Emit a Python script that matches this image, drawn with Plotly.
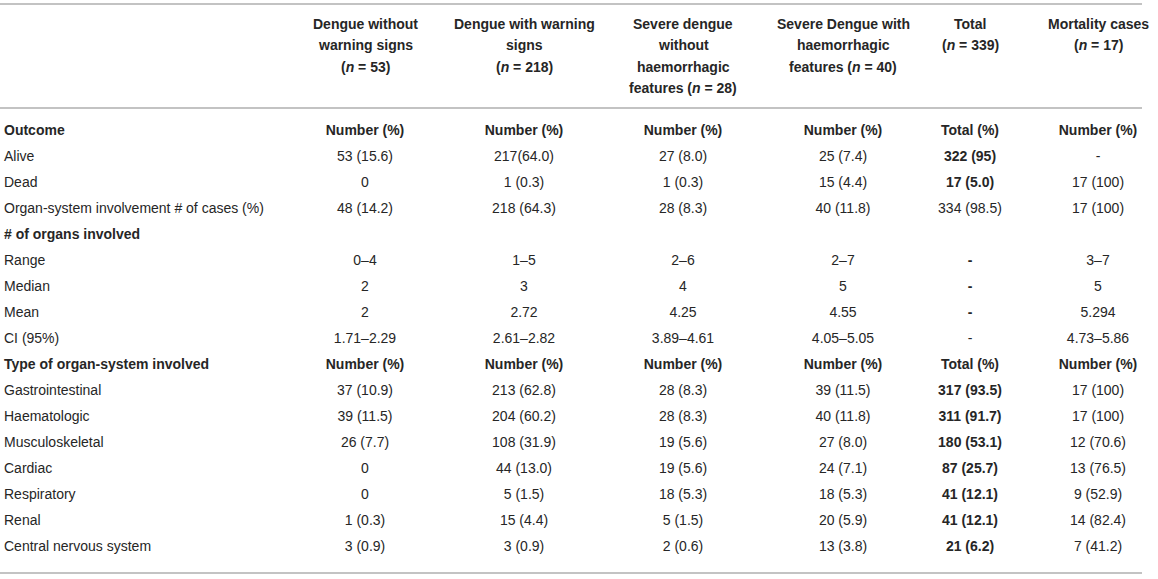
import plotly.graph_objects as go

# table content, row by row (first column = row labels)
row_labels = [
    "Outcome", "Alive", "Dead", "Organ-system involvement # of cases (%)",
    "# of organs involved", "Range", "Median", "Mean", "CI (95%)",
    "Type of organ-system involved", "Gastrointestinal", "Haematologic",
    "Musculoskeletal", "Cardiac", "Respiratory", "Renal", "Central nervous system",
]
section_rows = ["Outcome", "# of organs involved", "Type of organ-system involved"]

col_headers = [
    ["Dengue without", "warning signs", "(<i>n</i> = 53)"],
    ["Dengue with warning", "signs", "(<i>n</i> = 218)"],
    ["Severe dengue", "without", "haemorrhagic", "features (<i>n</i> = 28)"],
    ["Severe Dengue with", "haemorrhagic", "features (<i>n</i> = 40)"],
    ["Total", "(<i>n</i> = 339)"],
    ["Mortality cases", "(<i>n</i> = 17)"],
]

no_warning = ["Number (%)", "53 (15.6)", "0", "48 (14.2)", "", "0–4", "2", "2", "1.71–2.29",
              "Number (%)", "37 (10.9)", "39 (11.5)", "26 (7.7)", "0", "0", "1 (0.3)", "3 (0.9)"]
with_warning = ["Number (%)", "217(64.0)", "1 (0.3)", "218 (64.3)", "", "1–5", "3", "2.72", "2.61–2.82",
                "Number (%)", "213 (62.8)", "204 (60.2)", "108 (31.9)", "44 (13.0)", "5 (1.5)", "15 (4.4)", "3 (0.9)"]
severe_no_haem = ["Number (%)", "27 (8.0)", "1 (0.3)", "28 (8.3)", "", "2–6", "4", "4.25", "3.89–4.61",
                  "Number (%)", "28 (8.3)", "28 (8.3)", "19 (5.6)", "19 (5.6)", "18 (5.3)", "5 (1.5)", "2 (0.6)"]
severe_haem = ["Number (%)", "25 (7.4)", "15 (4.4)", "40 (11.8)", "", "2–7", "5", "4.55", "4.05–5.05",
               "Number (%)", "39 (11.5)", "40 (11.8)", "27 (8.0)", "24 (7.1)", "18 (5.3)", "20 (5.9)", "13 (3.8)"]
total = ["Total (%)", "322 (95)", "17 (5.0)", "334 (98.5)", "", "-", "-", "-", "-",
         "Total (%)", "317 (93.5)", "311 (91.7)", "180 (53.1)", "87 (25.7)", "41 (12.1)", "41 (12.1)", "21 (6.2)"]
mortality = ["Number (%)", "-", "17 (100)", "17 (100)", "", "3–7", "5", "5.294", "4.73–5.86",
             "Number (%)", "17 (100)", "17 (100)", "12 (70.6)", "13 (76.5)", "9 (52.9)", "14 (82.4)", "7 (41.2)"]

# cells of the Total column printed in bold
total_bold_rows = ["Alive", "Dead", "Range", "Median", "Mean", "Gastrointestinal", "Haematologic",
                   "Musculoskeletal", "Cardiac", "Respiratory", "Renal", "Central nervous system"]

columns = [no_warning, with_warning, severe_no_haem, severe_haem, total, mortality]

# layout constants (pixels)
W, H = 1158, 579
COL_X = [365, 524, 683, 843, 970, 1098]
LABEL_X = 4
ROW0_Y, ROW_H = 131, 26
HEAD_Y, HEAD_LH = 24, 21.3
RULE_X1 = 1142
FONT = "Liberation Sans, Arial, sans-serif"
TXT = "#262626"
RULE = "#c3c3c3"


def py(px):
    return 1 - px / H


def cell(text, bold):
    return "<b>%s</b>" % text if (bold and text) else text


fig = go.Figure()

fig.add_trace(go.Scatter(
    x=[LABEL_X] * len(row_labels), y=row_labels, mode="text",
    text=[cell(r, r in section_rows) for r in row_labels],
    textposition="middle right", cliponaxis=False, hoverinfo="skip",
    textfont=dict(family=FONT, size=14, color=TXT),
))

for j, col in enumerate(columns):
    texts = []
    for lab, v in zip(row_labels, col):
        bold = lab in section_rows or (col is total and lab in total_bold_rows)
        texts.append(cell(v, bold))
    fig.add_trace(go.Scatter(
        x=[COL_X[j]] * len(row_labels), y=row_labels, mode="text", text=texts,
        textposition="middle center", cliponaxis=False, hoverinfo="skip",
        textfont=dict(family=FONT, size=14, color=TXT),
    ))

for j, lines in enumerate(col_headers):
    for k, line in enumerate(lines):
        fig.add_annotation(
            x=COL_X[j], xref="x", y=py(HEAD_Y + k * HEAD_LH), yref="paper",
            text="<b>%s</b>" % line, showarrow=False, xanchor="center", yanchor="middle",
            font=dict(family=FONT, size=14, color=TXT),
        )

for ypx in [4, 108, 573]:
    fig.add_shape(type="line", xref="x", yref="paper", x0=0, x1=RULE_X1,
                  y0=py(ypx), y1=py(ypx), line=dict(color=RULE, width=2))

fig.update_layout(
    width=W, height=H, margin=dict(l=0, r=0, t=0, b=0),
    paper_bgcolor="white", plot_bgcolor="white", showlegend=False,
    xaxis=dict(range=[0, W], visible=False, fixedrange=True),
    yaxis=dict(type="category", categoryorder="array", categoryarray=row_labels,
               range=[(H - ROW0_Y) / ROW_H, -ROW0_Y / ROW_H], visible=False, fixedrange=True),
)

# drop the page's default body margin so the table sits flush in the window
fig.write_html("out.html", config={"displayModeBar": False},
               post_script="document.body.style.margin='0';document.body.style.overflow='hidden';")
